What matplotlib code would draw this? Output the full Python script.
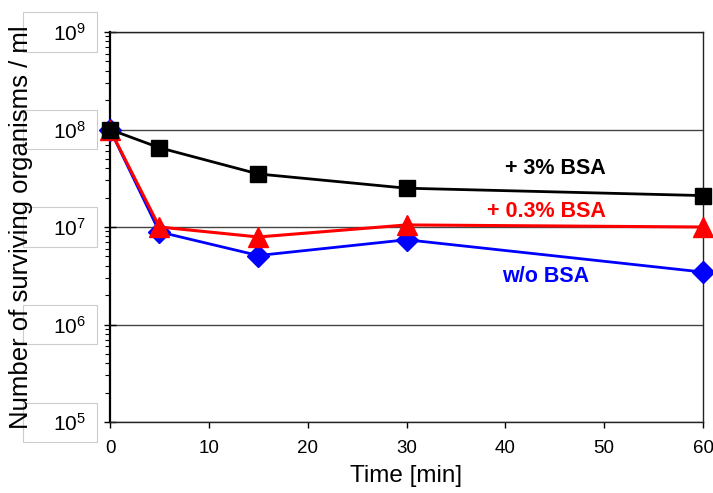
import math
import matplotlib
matplotlib.use("Agg")
import matplotlib.pyplot as plt
from matplotlib.patches import Rectangle
from matplotlib.ticker import LogLocator, FixedLocator, FuncFormatter, NullFormatter

plt.rcParams['font.family'] = ['Liberation Sans', 'DejaVu Sans']
plt.rcParams['mathtext.fontset'] = 'custom'
plt.rcParams['mathtext.rm'] = 'Liberation Sans'
plt.rcParams['mathtext.it'] = 'Liberation Sans'
plt.rcParams['mathtext.default'] = 'regular'

time = [0, 5, 15, 30, 60]
bsa_3 = [1.0e8, 6.5e7, 3.5e7, 2.5e7, 2.1e7]
bsa_03 = [1.0e8, 1.0e7, 7.9e6, 1.05e7, 1.0e7]
wo_bsa = [1.0e8, 8.9e6, 5.1e6, 7.4e6, 3.45e6]
series_labels = ['+ 3% BSA', '+ 0.3% BSA', 'w/o BSA']
x_ticks = [0, 10, 20, 30, 40, 50, 60]
y_exponents = [5, 6, 7, 8, 9]

W, H = 713, 493
fig = plt.figure(figsize=(W / 100, H / 100), dpi=100)
ax = fig.add_axes([110 / W, 1 - 422 / H, 593 / W, 390 / H])

ax.plot(time, wo_bsa, color='#0000ff', lw=2, marker='D', ms=11,
        mec='#0000ff', mfc='#0000ff', zorder=3, clip_on=False)
ax.plot(time, bsa_03, color='#ff0000', lw=2.2, marker='^', ms=14,
        mec='#ff0000', mfc='#ff0000', zorder=4, clip_on=False)
ax.plot(time, bsa_3, color='#000000', lw=2, marker='s', ms=12,
        mec='#000000', mfc='#000000', zorder=5, clip_on=False)

ax.set_yscale('log')
ax.set_xlim(0, 60)
ax.set_ylim(1e5, 1e9)

ax.xaxis.set_major_locator(FixedLocator(x_ticks))
ax.yaxis.set_major_locator(FixedLocator([10.0 ** e for e in y_exponents]))
ax.yaxis.set_minor_locator(LogLocator(base=10, subs=range(2, 10)))
ax.yaxis.set_minor_formatter(NullFormatter())
ax.yaxis.set_major_formatter(FuncFormatter(
    lambda v, p: r'$\mathregular{10^{%d}}$' % round(math.log10(v))))

ax.tick_params(axis='x', direction='out', length=4, width=1, labelsize=13.5, pad=9)
ax.tick_params(axis='y', which='major', direction='inout', length=9, width=1,
               labelsize=15, pad=13)
ax.tick_params(axis='y', which='minor', direction='out', length=3.5, width=0.8)

ax.yaxis.grid(True, which='major', color='#444444', lw=1)
ax.set_axisbelow(True)
for s in ['top', 'right', 'bottom']:
    ax.spines[s].set_linewidth(1)
    ax.spines[s].set_color('#222222')
ax.spines['left'].set_linewidth(1.6)

ax.set_xlabel('Time [min]', fontsize=17.5, labelpad=6)
ax.set_ylabel('Number of surviving organisms / ml', fontsize=18.5)
ax.yaxis.set_label_coords(-0.13, 0.5)

ax.text(45.1, 4.0e7, series_labels[0], fontsize=15.5, fontweight='bold',
        color='#000000', ha='center', va='center')
ax.text(44.2, 1.45e7, series_labels[1], fontsize=15.5, fontweight='bold',
        color='#ff0000', ha='center', va='center')
ax.text(44.1, 3.1e6, series_labels[2], fontsize=15.5, fontweight='bold',
        color='#0000ff', ha='center', va='center')

# light boxes around y tick labels
fig.canvas.draw()
for e in y_exponents:
    yc = ax.transData.transform((0, 10.0 ** e))[1]
    rect = Rectangle((23 / W, (yc - 19.5) / H), 74 / W, 39 / H,
                     transform=fig.transFigure, fill=False,
                     edgecolor='#cccccc', lw=0.8, zorder=0)
    fig.add_artist(rect)

fig.savefig('out.png', dpi=100)
